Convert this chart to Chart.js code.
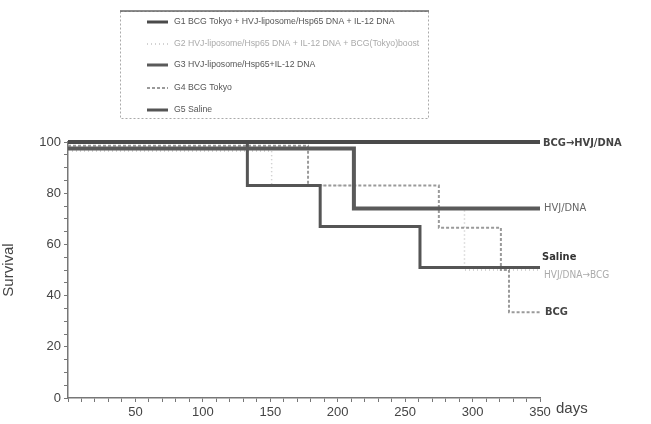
<!DOCTYPE html>
<html>
<head>
<meta charset="utf-8">
<script src="https://cdn.jsdelivr.net/npm/chart.js@4.4.1/dist/chart.umd.min.js"></script>
<style>
  html, body { margin: 0; padding: 0; background: #fff; }
  #wrap { position: relative; width: 651px; height: 424px; }
</style>
</head>
<body>
<div id="wrap"><canvas id="survChart" width="651" height="424"></canvas></div>
<script>
// Kaplan-Meier style survival curves (days, % survival)
const g1Days = [0, 350];
const g1Surv = [100, 100];
const g2Days = [0, 151, 212, 294, 350];
const g2Surv = [96.5, 83, 74, 50, 50];
const g3Days = [0, 212, 350];
const g3Surv = [97.5, 74, 74];
const g4Days = [0, 178, 275, 321, 327, 350];
const g4Surv = [98.5, 83, 66.5, 50, 33.5, 33.5];
const g5Days = [0, 133, 187, 261, 350];
const g5Surv = [100, 83, 67, 51, 51];

const legendNames = [
  'G1 BCG Tokyo + HVJ-liposome/Hsp65 DNA + IL-12 DNA',
  'G2 HVJ-liposome/Hsp65 DNA + IL-12 DNA + BCG(Tokyo)boost',
  'G3 HVJ-liposome/Hsp65+IL-12 DNA',
  'G4 BCG Tokyo',
  'G5 Saline'
];
const endLabels = ['BCG\u2192HVJ/DNA', 'HVJ/DNA\u2192BCG', 'HVJ/DNA', 'BCG', 'Saline'];

const yTicks = [0, 20, 40, 60, 80, 100];
const xTicks = [50, 100, 150, 200, 250, 300, 350];

function pts(days, surv) {
  return days.map((d, i) => ({ x: d, y: surv[i] }));
}

const FONT = '"Liberation Sans", Arial, sans-serif';
const LFONT = '"DejaVu Sans Condensed", "DejaVu Sans", sans-serif';

// legend box + end labels + "days"
const decorPlugin = {
  id: 'decor',
  afterDraw(chart) {
    const ctx = chart.ctx;
    const ds = chart.data.datasets;
    ctx.save();
    // legend box
    ctx.strokeStyle = '#aaa';
    ctx.lineWidth = 1;
    ctx.setLineDash([2, 2]);
    ctx.strokeRect(120.5, 11.5, 308, 107);
    ctx.setLineDash([]);
    ctx.strokeStyle = '#666';
    ctx.lineWidth = 1.5;
    ctx.beginPath();
    ctx.moveTo(120, 11); ctx.lineTo(429, 11);
    ctx.stroke();

    const rows = [22, 44, 65, 88, 110];
    ctx.font = '8.7px ' + FONT;
    ctx.textBaseline = 'middle';
    ds.forEach((d, i) => {
      ctx.strokeStyle = d.borderColor;
      ctx.lineWidth = Math.min(d.borderWidth, 3);
      ctx.setLineDash(d.borderDash || []);
      ctx.beginPath();
      ctx.moveTo(147, rows[i]);
      ctx.lineTo(168, rows[i]);
      ctx.stroke();
      ctx.setLineDash([]);
      ctx.fillStyle = i === 1 ? '#aaa' : '#555';
      ctx.fillText(legendNames[i], 174, rows[i]);
    });

    // end-of-curve labels
    const xs = chart.scales.x, ys = chart.scales.y;
    const xEnd = xs.getPixelForValue(350);
    const lab = [
      { t: endLabels[0], y: 100, dy: 1, f: 'bold 11px ', c: '#444', dx: 3 },
      { t: endLabels[2], y: 74, dy: 0, f: '11px ', c: '#666', dx: 4 },
      { t: endLabels[4], y: 51, dy: -10, f: 'bold 11px ', c: '#333', dx: 2 },
      { t: endLabels[1], y: 51, dy: 8, f: '10px ', c: '#aaa', dx: 4 },
      { t: endLabels[3], y: 33.5, dy: 0, f: 'bold 11px ', c: '#444', dx: 5 }
    ];
    lab.forEach(l => {
      ctx.font = l.f + LFONT;
      ctx.fillStyle = l.c;
      ctx.fillText(l.t, xEnd + l.dx, ys.getPixelForValue(l.y) + l.dy);
    });

    ctx.font = '15px ' + FONT;
    ctx.fillStyle = '#444';
    ctx.fillText('days', 556, 409);
    ctx.restore();
  }
};

const ctx = document.getElementById('survChart').getContext('2d');
new Chart(ctx, {
  type: 'line',
  data: {
    datasets: [
      { label: legendNames[0], data: pts(g1Days, g1Surv), borderColor: '#4a4a4a', borderWidth: 4, order: 1 },
      { label: legendNames[1], data: pts(g2Days, g2Surv), borderColor: '#c4c4c4', borderWidth: 1.5, borderDash: [1, 3], order: 5 },
      { label: legendNames[2], data: pts(g3Days, g3Surv), borderColor: '#5a5a5a', borderWidth: 4, order: 2 },
      { label: legendNames[3], data: pts(g4Days, g4Surv), borderColor: '#9a9a9a', borderWidth: 2, borderDash: [3, 2], order: 4 },
      { label: legendNames[4], data: pts(g5Days, g5Surv), borderColor: '#555', borderWidth: 3, order: 3 }
    ]
  },
  options: {
    responsive: false,
    animation: false,
    layout: { padding: { left: 0, top: 142, right: 111, bottom: 0 } },
    datasets: { line: { clip: 10 } },
    elements: {
      line: { stepped: 'before', fill: false, tension: 0 },
      point: { radius: 0 }
    },
    plugins: { legend: { display: false }, tooltip: { enabled: false } },
    scales: {
      x: {
        type: 'linear', min: 0, max: 350,
        afterFit(s) { s.height = 26; },
        border: { color: '#777', width: 1.5 },
        grid: { drawOnChartArea: false, drawTicks: true, tickLength: 4, color: '#777' },
        ticks: {
          stepSize: 10, autoSkip: false, maxRotation: 0, padding: 3,
          color: '#444', font: { family: FONT, size: 13 },
          callback: v => (xTicks.includes(v) ? String(v) : '')
        }
      },
      y: {
        min: 0, max: 100,
        afterFit(s) { s.width = 68; },
        border: { color: '#777', width: 1.5 },
        grid: { drawOnChartArea: false, drawTicks: true, tickLength: 4, color: '#777' },
        ticks: {
          stepSize: 5, autoSkip: false, padding: 3,
          color: '#444', font: { family: FONT, size: 13 },
          callback: v => (yTicks.includes(v) ? String(v) : '')
        },
        title: { display: true, text: 'Survival', color: '#444', font: { family: FONT, size: 15 }, padding: { top: 0, bottom: 4 } }
      }
    }
  },
  plugins: [decorPlugin]
});
</script>
</body>
</html>
